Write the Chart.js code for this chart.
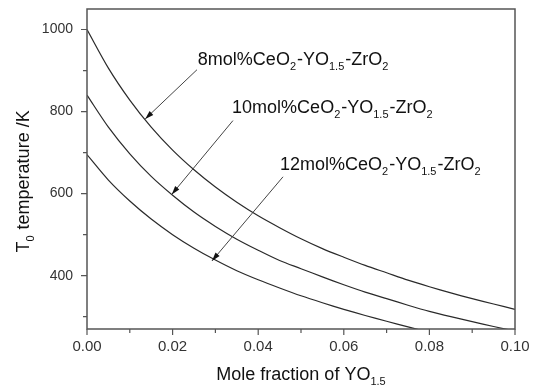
<!DOCTYPE html>
<html>
<head>
<meta charset="utf-8">
<script src="https://cdn.jsdelivr.net/npm/chart.js@4/dist/chart.umd.min.js"></script>
<style>
  html, body { margin: 0; padding: 0; background: #fff; }
</style>
</head>
<body>
<canvas id="chart" width="534" height="386"></canvas>
<script>
// mole fraction of YO1.5
const xValues = [0, 0.005, 0.01, 0.015, 0.02, 0.025, 0.03, 0.035, 0.04, 0.045, 0.05,
                 0.055, 0.06, 0.065, 0.07, 0.075, 0.08, 0.085, 0.09, 0.095, 0.10];
// T0 temperature (K)
const ce8  = [1000, 906, 828, 762, 706, 658, 616, 579, 546, 517, 490,
              466, 445, 425, 407, 389, 373, 358, 344, 331, 318];
const ce10 = [840, 762, 697, 642, 596, 555, 520, 489, 462, 437, 417,
              397, 378, 360, 344, 328, 313, 300, 288, 276, 265];
const ce12 = [695, 633, 582, 538, 500, 467, 438, 412, 390, 370, 351,
              334, 318, 303, 289, 275, 262];

const xTicks = [0, 0.02, 0.04, 0.06, 0.08, 0.10];
const xMinor = [0.01, 0.03, 0.05, 0.07, 0.09];
const yTicks = [400, 600, 800, 1000];
const yMinor = [300, 500, 700, 900];

// curve labels: text pieces (main / subscript alternating) and arrow ends in data units
const labels = [
  { parts: ['8mol%CeO', '2', '-YO', '1.5', '-ZrO', '2'],  at: [0.0259, 927], tail: [0.0257, 902], tip: [0.0136, 782] },
  { parts: ['10mol%CeO', '2', '-YO', '1.5', '-ZrO', '2'], at: [0.0339, 810], tail: [0.0341, 778], tip: [0.0198, 598] },
  { parts: ['12mol%CeO', '2', '-YO', '1.5', '-ZrO', '2'], at: [0.0451, 671], tail: [0.0458, 641], tip: [0.0292, 436] }
];

const pts = ys => ys.map((y, i) => ({ x: xValues[i], y }));

const FONT = '"Liberation Sans", Arial, sans-serif';

const lineStyle = { borderColor: '#2a2a2a', borderWidth: 1.2, pointRadius: 0, tension: 0.3, fill: false };

function drawParts(ctx, parts, x, y, big, small) {
  ctx.textBaseline = 'alphabetic';
  ctx.textAlign = 'left';
  parts.forEach((p, i) => {
    const sub = i % 2 === 1;
    ctx.font = (sub ? small : big) + 'px ' + FONT;
    ctx.fillText(p, x, sub ? y + 5 : y);
    x += ctx.measureText(p).width + (sub ? 1 : 0);
  });
}

const decor = {
  id: 'decor',
  afterDraw(chart) {
    const { ctx, chartArea: a, scales: { x, y } } = chart;
    ctx.save();

    // frame
    ctx.strokeStyle = '#555';
    ctx.lineWidth = 1.5;
    ctx.strokeRect(a.left, a.top, a.right - a.left, a.bottom - a.top);

    // ticks
    ctx.lineWidth = 1.2;
    ctx.beginPath();
    xTicks.forEach(v => { const px = x.getPixelForValue(v); ctx.moveTo(px, a.bottom); ctx.lineTo(px, a.bottom + 6); });
    xMinor.forEach(v => { const px = x.getPixelForValue(v); ctx.moveTo(px, a.bottom); ctx.lineTo(px, a.bottom + 4); });
    yTicks.forEach(v => { const py = y.getPixelForValue(v); ctx.moveTo(a.left, py); ctx.lineTo(a.left - 6, py); });
    yMinor.forEach(v => { const py = y.getPixelForValue(v); ctx.moveTo(a.left, py); ctx.lineTo(a.left - 4, py); });
    ctx.stroke();

    // tick labels
    ctx.fillStyle = '#333';
    ctx.font = '15px ' + FONT;
    ctx.textAlign = 'center';
    ctx.textBaseline = 'middle';
    xTicks.forEach(v => ctx.fillText(v.toFixed(2), x.getPixelForValue(v), a.bottom + 18));
    ctx.font = '14px ' + FONT;
    ctx.textAlign = 'right';
    yTicks.forEach(v => ctx.fillText(String(v), a.left - 14, y.getPixelForValue(v)));

    // curve labels + arrows
    ctx.fillStyle = '#111';
    labels.forEach(l => {
      drawParts(ctx, l.parts, x.getPixelForValue(l.at[0]), y.getPixelForValue(l.at[1]) + 6, 18, 11);
      const x0 = x.getPixelForValue(l.tail[0]), y0 = y.getPixelForValue(l.tail[1]);
      const x1 = x.getPixelForValue(l.tip[0]),  y1 = y.getPixelForValue(l.tip[1]);
      const ang = Math.atan2(y1 - y0, x1 - x0);
      ctx.strokeStyle = '#444';
      ctx.lineWidth = 1;
      ctx.beginPath(); ctx.moveTo(x0, y0); ctx.lineTo(x1, y1); ctx.stroke();
      ctx.fillStyle = '#111';
      ctx.beginPath();
      ctx.moveTo(x1, y1);
      ctx.lineTo(x1 - 9 * Math.cos(ang - 0.3), y1 - 9 * Math.sin(ang - 0.3));
      ctx.lineTo(x1 - 9 * Math.cos(ang + 0.3), y1 - 9 * Math.sin(ang + 0.3));
      ctx.closePath(); ctx.fill();
    });

    // x axis title
    ctx.fillStyle = '#111';
    const xt = ['Mole fraction of YO', '1.5'];
    ctx.font = '18px ' + FONT;
    const w1 = ctx.measureText(xt[0]).width;
    ctx.font = '11px ' + FONT;
    const w2 = ctx.measureText(xt[1]).width;
    drawParts(ctx, xt, (a.left + a.right) / 2 - (w1 + w2) / 2, 380, 18, 11);

    // y axis title (rotated)
    ctx.translate(29, (a.top + a.bottom) / 2 + 12);
    ctx.rotate(-Math.PI / 2);
    const yt = ['T', '0', ' temperature /K'];
    ctx.font = '18px ' + FONT;
    const t1 = ctx.measureText(yt[0]).width + ctx.measureText(yt[2]).width;
    drawParts(ctx, yt, -(t1 + 8) / 2, 0, 18, 11);

    ctx.restore();
  }
};

new Chart(document.getElementById('chart'), {
  type: 'line',
  data: {
    datasets: [
      { label: '8mol%',  data: pts(ce8),  ...lineStyle },
      { label: '10mol%', data: pts(ce10), ...lineStyle },
      { label: '12mol%', data: pts(ce12), ...lineStyle }
    ]
  },
  options: {
    responsive: false,
    animation: false,
    layout: { padding: { top: 9, right: 19, left: 0, bottom: 0 } },
    plugins: { legend: { display: false }, tooltip: { enabled: false } },
    scales: {
      x: {
        type: 'linear', min: 0, max: 0.10,
        afterFit: s => { s.height = 57; },
        grid: { display: false, drawTicks: false },
        border: { display: false },
        ticks: { display: false }
      },
      y: {
        min: 270, max: 1050,
        afterFit: s => { s.width = 87; },
        grid: { display: false, drawTicks: false },
        border: { display: false },
        ticks: { display: false }
      }
    }
  },
  plugins: [decor]
});
</script>
</body>
</html>
